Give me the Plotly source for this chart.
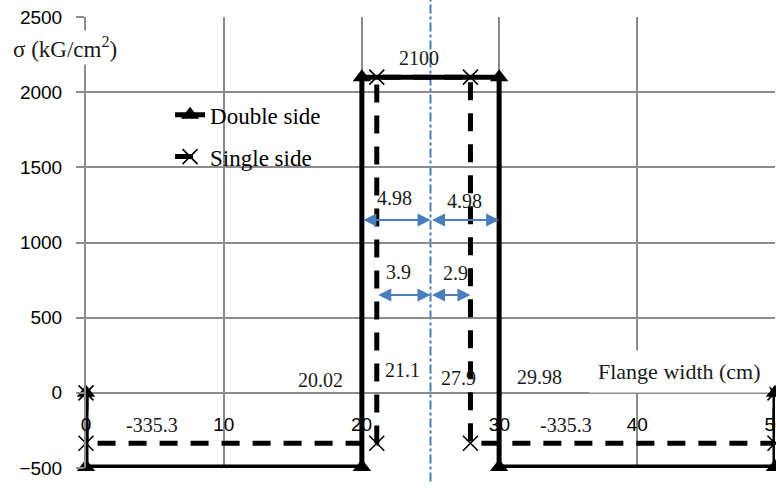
import plotly.graph_objects as go

# ---- data ----
double_x = [0, 0, 20.02, 20.02, 29.98, 29.98, 50, 50]
double_y = [0, -493.87, -493.87, 2100, 2100, -493.87, -493.87, 0]
single_x = [0, 0, 21.1, 21.1, 27.9, 27.9, 50, 50]
single_y = [0, -335.3, -335.3, 2100, 2100, -335.3, -335.3, 0]
center_x = 25
x_ticks = [0, 10, 20, 30, 40, 50]
y_ticks = [-500, 0, 500, 1000, 1500, 2000, 2500]

# dimension arrows: (start, end, level, label, label_x, label_y)
dim_arrows = [
    (20.02, 25, 1150, "4.98", 22.4, 1295),
    (25, 29.98, 1150, "4.98", 27.5, 1275),
    (21.1, 25, 650, "3.9", 22.7, 805),
    (25, 27.9, 650, "2.9", 26.8, 800),
]
# value labels: (text, x, y)
value_labels = [
    ("2100", 24.2, 2228),
    ("20.02", 17.0, 86),
    ("21.1", 23.0, 153),
    ("27.9", 27.0, 100),
    ("29.98", 32.9, 106),
    ("-335.3", 4.8, -213),
    ("-335.3", 34.8, -213),
    ("-493.87", 14.3, -645),
    ("-493.87", 43.8, -645),
]

SERIF = "Liberation Serif, Times New Roman, serif"
SANS = "Liberation Sans, Arial, sans-serif"
GRID = "#8c8c8c"
BLUE = "#4a7ebb"

fig = go.Figure()
fig.add_trace(go.Scatter(
    x=double_x, y=double_y, name="Double side", mode="lines+markers",
    line=dict(color="black", width=5),
    marker=dict(symbol="triangle-up", size=16, color="black"),
    cliponaxis=False, legendgroup="a",
))
fig.add_trace(go.Scatter(
    x=single_x, y=single_y, name="Single side", mode="lines+markers",
    line=dict(color="black", width=5, dash="18px,13px"),
    marker=dict(symbol="x-thin-open", size=15, color="black",
                line=dict(width=1.6, color="black")),
    cliponaxis=False, legendgroup="b",
))

# center line
fig.add_shape(type="line", xref="x", yref="paper", x0=center_x, x1=center_x,
              y0=-0.03, y1=1.04, line=dict(color=BLUE, width=2, dash="dashdot"),
              layer="below")

annotations = []
for x0, x1, lev, lab, lx, ly in dim_arrows:
    annotations.append(dict(x=x1, y=lev, ax=x0, ay=lev, xref="x", yref="y",
                            axref="x", ayref="y", text="", showarrow=True,
                            arrowhead=2, arrowside="end+start", arrowsize=1.3,
                            arrowwidth=2, arrowcolor=BLUE, standoff=0, startstandoff=0))
    annotations.append(dict(x=lx, y=ly, xref="x", yref="y", text=lab, showarrow=False,
                            font=dict(family=SERIF, size=20, color="#1a1a1a")))
for t, x, y in value_labels:
    annotations.append(dict(x=x, y=y, xref="x", yref="y", text=t, showarrow=False,
                            font=dict(family=SERIF, size=20, color="#1a1a1a")))
annotations.append(dict(x=43.1, y=140, xref="x", yref="y", text="Flange width (cm)",
                        showarrow=False, bgcolor="white", borderpad=8,
                        xanchor="center", yanchor="middle",
                        font=dict(family=SERIF, size=22, color="#1a1a1a")))
annotations.append(dict(x=-21 / 689, y=(421 / 451), xref="paper", yref="paper",
                        text="σ (kG/cm<sup>2</sup>)", showarrow=False, bgcolor="white",
                        xanchor="center", yanchor="middle",
                        borderpad=2, font=dict(family=SERIF, size=23, color="#1a1a1a")))

fig.update_layout(
    width=776, height=501,
    margin=dict(l=86, r=1, t=17, b=33, autoexpand=False),
    plot_bgcolor="white", paper_bgcolor="white",
    showlegend=True,
    legend=dict(x=0.122, y=0.831, xanchor="left", yanchor="top",
                bgcolor="rgba(0,0,0,0)", tracegroupgap=9,
                font=dict(family=SERIF, size=23, color="black")),
    annotations=annotations,
    xaxis=dict(range=[0, 50], tickvals=x_ticks, showgrid=True, gridcolor=GRID,
               gridwidth=2, zeroline=False, showline=False, anchor="free",
               position=75 / 451, ticklabelstandoff=18, ticklabeloverflow="allow",
               automargin=False,
               tickfont=dict(family=SANS, size=19, color="black")),
    yaxis=dict(range=[-500, 2500], tickvals=y_ticks, showgrid=True, gridcolor=GRID,
               gridwidth=2, zeroline=False, showline=True, linecolor=GRID, linewidth=2,
               ticks="outside", ticklen=8, tickcolor=GRID, tickwidth=2,
               ticklabelstandoff=10, ticklabeloverflow="allow", automargin=False,
               tickfont=dict(family=SANS, size=19, color="black")),
)

fig.write_html("out.html", config={"displayModeBar": False},
               post_script="document.body.style.margin='0';document.body.style.overflow='hidden';")
